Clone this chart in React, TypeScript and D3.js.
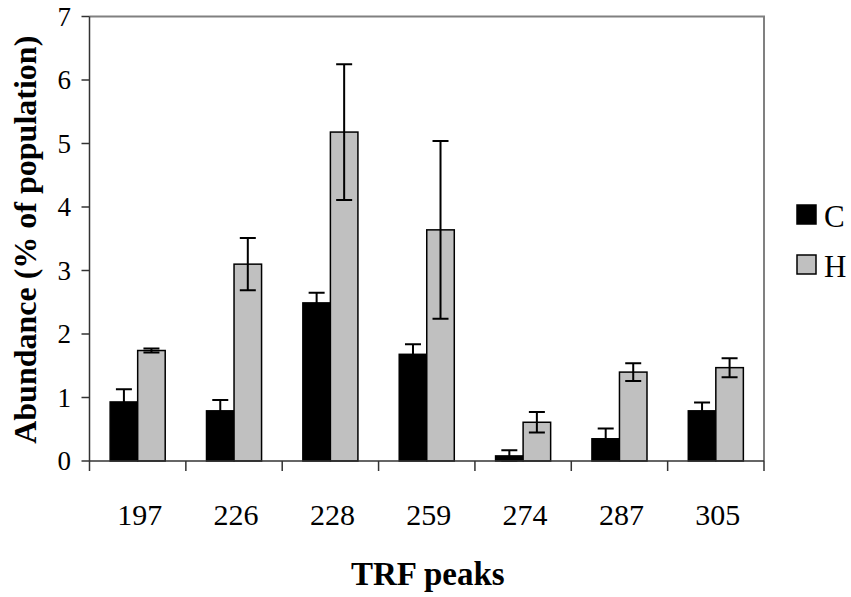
import * as d3 from "d3";

const peaks = ["197", "226", "228", "259", "274", "287", "305"];
const seriesNames = ["C", "H"];
const valuesC = [0.93, 0.79, 2.49, 1.68, 0.08, 0.35, 0.79];
const valuesH = [1.74, 3.1, 5.18, 3.64, 0.61, 1.4, 1.47];
const errC = [0.2, 0.17, 0.16, 0.16, 0.09, 0.16, 0.13];
const errH = [0.03, 0.41, 1.07, 1.4, 0.16, 0.14, 0.15];
const yTicks = [0, 1, 2, 3, 4, 5, 6, 7];

const W = 851;
const H = 597;
const left = 89.5;
const right = 764;
const top = 16.5;
const bottom = 461;
const font = "'Liberation Serif', 'Times New Roman', serif";
const fills: Record<string, string> = { C: "#000000", H: "#c0c0c0" };

const App = () => {
  const x = d3.scaleBand<string>().domain(peaks).range([left, right]).padding(0);
  const xs = d3
    .scaleBand<string>()
    .domain(seriesNames)
    .range([0, x.bandwidth()])
    .paddingInner(0)
    .paddingOuter(0.75);
  const y = d3.scaleLinear().domain([0, 7]).range([bottom, top]);

  const series = [
    { name: "C", values: valuesC, errs: errC },
    { name: "H", values: valuesH, errs: errH },
  ];
  const capHalf = 8;
  const boundaries = peaks.map((p) => x(p)!).concat([right]);

  return (
    <svg
      width={W}
      height={H}
      style={{ position: "absolute", left: 0, top: 0, background: "#fff" }}
      fontFamily={font}
    >
      {/* plot frame (top and right in gray) */}
      <path
        d={`M${left},${top}H${right}V${bottom}`}
        fill="none"
        stroke="#808080"
        strokeWidth={2}
      />

      {/* bars with error bars */}
      {series.map((s) =>
        peaks.map((p, i) => {
          const bx = x(p)! + xs(s.name)!;
          const v = s.values[i];
          const e = s.errs[i];
          const cx = bx + xs.bandwidth() / 2;
          const hi = y(v + e);
          const lo = y(Math.max(0, v - e));
          return (
            <g key={s.name + p}>
              <rect
                x={bx}
                y={y(v)}
                width={xs.bandwidth()}
                height={y(0) - y(v)}
                fill={fills[s.name]}
                stroke="#000"
                strokeWidth={1.5}
              />
              <path
                d={`M${cx},${hi}V${lo}M${cx - capHalf},${hi}H${cx + capHalf}M${cx - capHalf},${lo}H${cx + capHalf}`}
                stroke="#000"
                strokeWidth={2}
                fill="none"
              />
            </g>
          );
        })
      )}

      {/* y axis */}
      <line x1={left} x2={left} y1={top} y2={bottom} stroke="#333" strokeWidth={1.5} />
      {yTicks.map((t) => (
        <g key={t}>
          <line x1={left - 8} x2={left} y1={y(t)} y2={y(t)} stroke="#333" strokeWidth={1.5} />
          <text x={71} y={y(t)} dy="0.34em" textAnchor="end" fontSize={27}>
            {t}
          </text>
        </g>
      ))}

      {/* x axis */}
      <line x1={left} x2={right} y1={bottom} y2={bottom} stroke="#333" strokeWidth={1.5} />
      {boundaries.map((b, i) => (
        <line key={i} x1={b} x2={b} y1={bottom} y2={bottom + 10} stroke="#333" strokeWidth={1.5} />
      ))}
      {peaks.map((p) => (
        <text key={p} x={x(p)! + x.bandwidth() / 2 + 2} y={525} textAnchor="middle" fontSize={30}>
          {p}
        </text>
      ))}

      {/* titles */}
      <text
        x={(left + right) / 2 + 1}
        y={585}
        textAnchor="middle"
        fontSize={33}
        fontWeight="bold"
      >
        TRF peaks
      </text>
      <text
        transform={`translate(36,${(top + bottom) / 2 + 1}) rotate(-90)`}
        textAnchor="middle"
        fontSize={32}
        fontWeight="bold"
      >
        Abundance (% of population)
      </text>

      {/* legend */}
      {seriesNames.map((n, i) => (
        <g key={n} transform={`translate(797,${205 + i * 50})`}>
          <rect width={19} height={19} fill={fills[n]} stroke="#000" strokeWidth={1.5} />
          <text x={27} y={22} fontSize={31}>
            {n}
          </text>
        </g>
      ))}
    </svg>
  );
};

export default App;
